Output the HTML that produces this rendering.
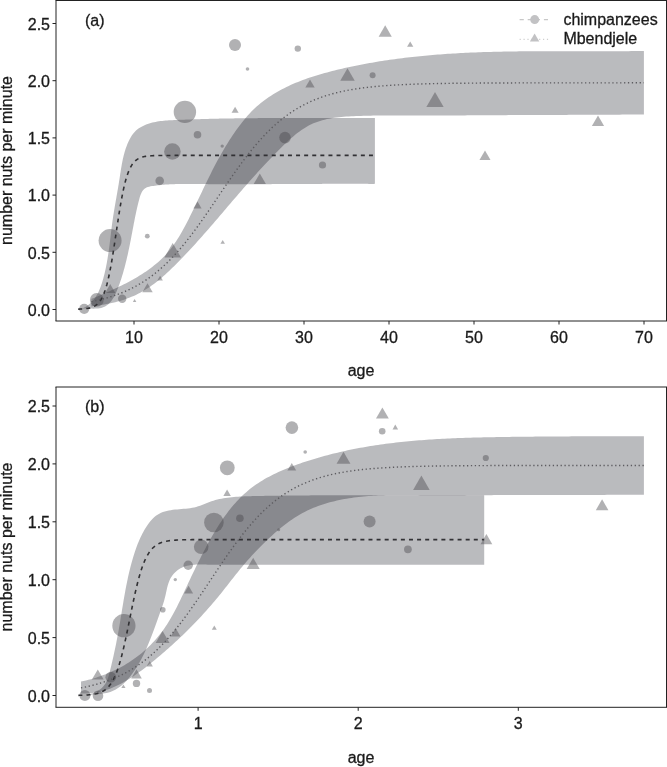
<!DOCTYPE html>
<html><head><meta charset="utf-8"><style>
html,body{margin:0;padding:0;background:#fff;}
body{width:667px;height:767px;overflow:hidden;font-family:"Liberation Sans", sans-serif;}
svg{display:block;will-change:transform;}
text{stroke:#1a1a1a;stroke-width:0.3px;}
</style></head><body>
<svg width="667" height="767" viewBox="0 0 667 767" font-family='"Liberation Sans", sans-serif' font-size="16" fill="#1a1a1a"><path d="M78.20,308.90 L80.03,309.15 L81.70,308.60 L83.28,307.96 L84.79,307.23 L86.23,306.42 L87.59,305.54 L88.89,304.57 L90.12,303.54 L91.28,302.44 L92.39,301.27 L93.43,300.04 L94.42,298.76 L95.35,297.42 L96.23,296.04 L97.06,294.61 L97.85,293.14 L98.59,291.63 L99.29,290.09 L99.95,288.52 L100.57,286.93 L101.16,285.31 L101.71,283.68 L102.24,282.03 L102.74,280.37 L103.22,278.70 L103.67,277.03 L104.10,275.36 L104.52,273.69 L104.91,272.03 L105.29,270.36 L105.65,268.69 L106.00,267.03 L106.33,265.36 L106.65,263.70 L106.95,262.04 L107.24,260.37 L107.52,258.71 L107.79,257.05 L108.05,255.39 L108.30,253.73 L108.54,252.07 L108.78,250.41 L109.00,248.75 L109.22,247.09 L109.44,245.43 L109.65,243.77 L109.86,242.11 L110.06,240.45 L110.26,238.79 L110.46,237.14 L110.66,235.48 L110.86,233.82 L111.06,232.16 L111.26,230.50 L111.47,228.85 L111.68,227.19 L111.89,225.53 L112.11,223.87 L112.33,222.21 L112.56,220.55 L112.80,218.90 L113.05,217.24 L113.30,215.58 L113.56,213.92 L113.83,212.26 L114.10,210.60 L114.38,208.94 L114.66,207.28 L114.95,205.61 L115.23,203.95 L115.52,202.29 L115.82,200.62 L116.11,198.96 L116.41,197.29 L116.70,195.62 L116.99,193.96 L117.28,192.29 L117.57,190.62 L117.86,188.95 L118.14,187.27 L118.42,185.60 L118.70,183.92 L118.97,182.25 L119.23,180.57 L119.49,178.89 L119.74,177.21 L120.00,175.53 L120.25,173.85 L120.51,172.17 L120.77,170.49 L121.04,168.82 L121.32,167.14 L121.61,165.47 L121.91,163.81 L122.23,162.14 L122.56,160.49 L122.91,158.84 L123.29,157.19 L123.69,155.55 L124.11,153.92 L124.56,152.29 L125.04,150.68 L125.55,149.07 L126.10,147.47 L126.68,145.88 L127.30,144.30 L127.96,142.73 L128.66,141.18 L129.41,139.66 L130.21,138.17 L131.06,136.72 L131.97,135.32 L132.94,133.98 L133.98,132.70 L135.09,131.49 L136.27,130.37 L137.52,129.32 L138.83,128.36 L140.20,127.47 L141.61,126.65 L143.07,125.90 L144.57,125.21 L146.09,124.58 L147.63,124.01 L149.19,123.49 L150.77,123.03 L152.36,122.61 L153.97,122.23 L155.60,121.90 L157.23,121.60 L158.88,121.34 L160.54,121.11 L162.21,120.91 L163.88,120.74 L165.57,120.59 L167.26,120.46 L168.95,120.35 L170.65,120.25 L172.35,120.16 L174.05,120.08 L175.76,120.00 L177.46,119.93 L179.16,119.86 L180.86,119.79 L182.57,119.72 L184.27,119.65 L185.97,119.59 L187.66,119.53 L189.36,119.47 L191.06,119.41 L192.76,119.35 L194.45,119.29 L196.15,119.24 L197.85,119.18 L199.54,119.13 L201.24,119.08 L202.93,119.03 L204.62,118.99 L206.32,118.94 L208.01,118.90 L209.70,118.85 L211.39,118.81 L213.08,118.77 L214.77,118.73 L216.46,118.69 L218.15,118.66 L219.84,118.62 L221.53,118.59 L223.22,118.56 L224.91,118.53 L226.60,118.50 L228.28,118.47 L229.97,118.44 L231.66,118.41 L233.34,118.39 L235.03,118.36 L236.72,118.34 L238.40,118.31 L240.09,118.29 L241.77,118.27 L243.46,118.25 L245.14,118.23 L246.83,118.22 L248.51,118.20 L250.19,118.18 L251.88,118.17 L253.56,118.16 L255.25,118.14 L256.93,118.13 L258.61,118.12 L260.29,118.11 L261.98,118.10 L263.66,118.09 L265.34,118.08 L267.03,118.07 L268.71,118.06 L270.39,118.06 L272.07,118.05 L273.75,118.04 L275.44,118.04 L277.12,118.03 L278.80,118.03 L280.48,118.03 L282.16,118.02 L283.85,118.02 L285.53,118.02 L287.21,118.02 L288.89,118.02 L290.58,118.01 L292.26,118.01 L293.94,118.01 L295.62,118.01 L297.31,118.01 L298.99,118.01 L300.67,118.01 L302.35,118.02 L304.04,118.02 L305.72,118.02 L307.40,118.02 L309.09,118.02 L310.77,118.02 L312.45,118.03 L314.14,118.03 L315.82,118.03 L317.51,118.03 L319.19,118.03 L320.88,118.04 L322.56,118.04 L324.25,118.04 L325.94,118.04 L327.62,118.04 L329.31,118.05 L330.99,118.05 L332.68,118.05 L334.37,118.05 L336.06,118.05 L337.75,118.05 L339.43,118.05 L341.12,118.05 L342.81,118.05 L344.50,118.05 L346.19,118.05 L347.88,118.05 L349.57,118.05 L351.27,118.05 L352.96,118.05 L354.65,118.05 L356.34,118.04 L358.04,118.04 L359.73,118.04 L361.43,118.03 L363.12,118.03 L364.82,118.02 L366.51,118.02 L368.21,118.01 L369.91,118.00 L371.60,117.99 L373.30,117.99 L374.90,118.00 L374.90,183.80 L373.42,183.90 L371.94,183.90 L370.45,183.89 L368.96,183.88 L367.47,183.87 L365.99,183.86 L364.50,183.86 L363.01,183.85 L361.53,183.85 L360.04,183.84 L358.55,183.84 L357.06,183.83 L355.58,183.83 L354.09,183.83 L352.60,183.83 L351.12,183.82 L349.63,183.82 L348.14,183.82 L346.66,183.82 L345.17,183.82 L343.68,183.82 L342.20,183.82 L340.71,183.83 L339.22,183.83 L337.74,183.83 L336.25,183.83 L334.76,183.84 L333.28,183.84 L331.79,183.84 L330.31,183.85 L328.82,183.85 L327.33,183.86 L325.85,183.86 L324.36,183.87 L322.87,183.87 L321.39,183.88 L319.90,183.88 L318.42,183.89 L316.93,183.89 L315.44,183.90 L313.96,183.91 L312.47,183.91 L310.99,183.92 L309.50,183.93 L308.02,183.94 L306.53,183.94 L305.04,183.95 L303.56,183.96 L302.07,183.97 L300.59,183.97 L299.10,183.98 L297.61,183.99 L296.13,184.00 L294.64,184.01 L293.16,184.01 L291.67,184.02 L290.19,184.03 L288.70,184.04 L287.21,184.05 L285.73,184.05 L284.24,184.06 L282.76,184.07 L281.27,184.08 L279.79,184.09 L278.30,184.09 L276.81,184.10 L275.33,184.11 L273.84,184.12 L272.36,184.12 L270.87,184.13 L269.39,184.14 L267.90,184.14 L266.41,184.15 L264.93,184.16 L263.44,184.16 L261.96,184.17 L260.47,184.17 L258.98,184.18 L257.50,184.18 L256.01,184.19 L254.53,184.19 L253.04,184.20 L251.55,184.20 L250.07,184.20 L248.58,184.21 L247.10,184.21 L245.61,184.21 L244.12,184.22 L242.64,184.22 L241.15,184.22 L239.66,184.22 L238.18,184.22 L236.69,184.22 L235.20,184.22 L233.72,184.22 L232.23,184.22 L230.74,184.22 L229.26,184.22 L227.77,184.21 L226.28,184.21 L224.80,184.21 L223.31,184.20 L221.82,184.20 L220.34,184.19 L218.85,184.19 L217.36,184.18 L215.87,184.17 L214.39,184.17 L212.90,184.16 L211.41,184.15 L209.93,184.14 L208.44,184.13 L206.95,184.12 L205.46,184.11 L203.97,184.09 L202.49,184.08 L201.00,184.07 L199.51,184.05 L198.02,184.04 L196.53,184.02 L195.05,184.01 L193.56,184.00 L192.07,183.98 L190.58,183.98 L189.09,183.97 L187.61,183.96 L186.12,183.96 L184.63,183.97 L183.15,183.97 L181.66,183.99 L180.17,184.01 L178.69,184.03 L177.20,184.06 L175.72,184.10 L174.23,184.15 L172.75,184.20 L171.26,184.26 L169.78,184.34 L168.30,184.42 L166.81,184.51 L165.33,184.61 L163.85,184.73 L162.37,184.85 L160.89,184.99 L159.41,185.14 L157.94,185.31 L156.46,185.48 L154.98,185.68 L153.51,185.88 L152.03,186.11 L150.57,186.36 L149.14,186.66 L147.76,187.05 L146.47,187.55 L145.28,188.19 L144.21,189.00 L143.28,189.98 L142.45,191.10 L141.72,192.34 L141.08,193.68 L140.51,195.11 L140.00,196.59 L139.54,198.12 L139.12,199.67 L138.72,201.21 L138.33,202.75 L137.95,204.27 L137.59,205.78 L137.23,207.28 L136.89,208.77 L136.56,210.25 L136.24,211.73 L135.92,213.19 L135.62,214.65 L135.32,216.11 L135.02,217.56 L134.73,219.01 L134.45,220.45 L134.17,221.89 L133.89,223.33 L133.62,224.77 L133.35,226.21 L133.08,227.65 L132.80,229.09 L132.53,230.53 L132.26,231.97 L131.99,233.41 L131.71,234.86 L131.44,236.30 L131.16,237.75 L130.88,239.19 L130.60,240.64 L130.31,242.09 L130.03,243.54 L129.74,244.99 L129.44,246.43 L129.14,247.88 L128.84,249.33 L128.53,250.78 L128.22,252.23 L127.91,253.68 L127.58,255.13 L127.25,256.57 L126.92,258.02 L126.58,259.47 L126.23,260.92 L125.88,262.36 L125.52,263.81 L125.15,265.25 L124.77,266.70 L124.38,268.14 L123.99,269.58 L123.58,271.02 L123.17,272.46 L122.75,273.90 L122.32,275.33 L121.87,276.77 L121.42,278.20 L120.96,279.63 L120.48,281.06 L120.00,282.49 L119.50,283.92 L118.99,285.34 L118.46,286.77 L117.93,288.19 L117.38,289.60 L116.81,291.00 L116.21,292.39 L115.60,293.75 L114.95,295.08 L114.27,296.38 L113.56,297.65 L112.81,298.87 L112.02,300.04 L111.18,301.16 L110.30,302.22 L109.36,303.22 L108.38,304.14 L107.33,304.99 L106.22,305.77 L105.05,306.45 L103.82,307.05 L102.51,307.55 L101.13,307.95 L99.67,308.25 L98.15,308.45 L96.57,308.57 L94.95,308.62 L93.30,308.63 L91.64,308.60 L89.98,308.55 L88.33,308.50 L86.71,308.46 L85.13,308.45 L83.61,308.49 L82.15,308.58 L80.78,308.75 L79.50,309.01 L78.20,309.30 Z" fill="rgb(0,2,13)" fill-opacity="0.2725"/>
<path d="M91.40,298.80 L93.86,297.97 L96.14,296.99 L98.43,296.01 L100.74,295.01 L103.05,294.00 L105.36,292.98 L107.69,291.95 L110.01,290.91 L112.34,289.85 L114.66,288.78 L116.98,287.69 L119.30,286.58 L121.61,285.45 L123.91,284.30 L126.20,283.13 L128.48,281.93 L130.75,280.72 L133.00,279.47 L135.23,278.20 L137.44,276.90 L139.63,275.58 L141.79,274.22 L143.93,272.83 L146.05,271.41 L148.13,269.95 L150.19,268.46 L152.21,266.94 L154.19,265.37 L156.14,263.77 L158.05,262.13 L159.93,260.44 L161.75,258.72 L163.54,256.95 L165.28,255.14 L166.97,253.28 L168.61,251.37 L170.21,249.42 L171.75,247.43 L173.25,245.40 L174.72,243.32 L176.14,241.22 L177.52,239.08 L178.87,236.92 L180.19,234.73 L181.48,232.51 L182.74,230.28 L183.98,228.03 L185.19,225.76 L186.39,223.49 L187.57,221.20 L188.73,218.91 L189.88,216.62 L191.02,214.32 L192.15,212.03 L193.27,209.73 L194.38,207.43 L195.49,205.14 L196.59,202.84 L197.69,200.55 L198.78,198.25 L199.88,195.96 L200.97,193.67 L202.06,191.38 L203.16,189.09 L204.25,186.80 L205.36,184.52 L206.46,182.24 L207.57,179.96 L208.69,177.68 L209.82,175.41 L210.95,173.14 L212.10,170.87 L213.26,168.61 L214.43,166.35 L215.61,164.10 L216.81,161.85 L218.02,159.61 L219.25,157.38 L220.49,155.15 L221.75,152.94 L223.03,150.73 L224.32,148.53 L225.63,146.34 L226.96,144.16 L228.31,141.99 L229.68,139.84 L231.07,137.70 L232.48,135.57 L233.91,133.46 L235.36,131.36 L236.83,129.28 L238.33,127.21 L239.86,125.17 L241.41,123.14 L242.99,121.14 L244.60,119.17 L246.24,117.22 L247.92,115.31 L249.64,113.44 L251.40,111.61 L253.20,109.82 L255.04,108.07 L256.92,106.37 L258.84,104.71 L260.80,103.10 L262.79,101.53 L264.81,100.00 L266.87,98.52 L268.95,97.08 L271.06,95.68 L273.19,94.32 L275.35,93.01 L277.53,91.73 L279.73,90.50 L281.95,89.30 L284.20,88.14 L286.46,87.01 L288.74,85.92 L291.04,84.87 L293.36,83.84 L295.70,82.85 L298.04,81.89 L300.41,80.96 L302.79,80.06 L305.18,79.18 L307.58,78.34 L310.00,77.51 L312.42,76.72 L314.86,75.94 L317.30,75.19 L319.76,74.46 L322.22,73.75 L324.68,73.06 L327.16,72.39 L329.63,71.73 L332.12,71.10 L334.60,70.47 L337.09,69.86 L339.58,69.27 L342.07,68.69 L344.57,68.12 L347.06,67.56 L349.56,67.01 L352.05,66.48 L354.55,65.96 L357.05,65.45 L359.56,64.95 L362.06,64.46 L364.56,63.99 L367.07,63.53 L369.58,63.07 L372.08,62.63 L374.59,62.20 L377.10,61.78 L379.61,61.37 L382.13,60.98 L384.64,60.59 L387.16,60.21 L389.67,59.84 L392.19,59.49 L394.71,59.14 L397.23,58.80 L399.75,58.47 L402.27,58.15 L404.79,57.84 L407.32,57.54 L409.84,57.25 L412.37,56.97 L414.89,56.69 L417.42,56.43 L419.95,56.17 L422.48,55.92 L425.01,55.68 L427.54,55.45 L430.07,55.23 L432.61,55.01 L435.14,54.80 L437.67,54.60 L440.21,54.41 L442.74,54.22 L445.28,54.04 L447.82,53.87 L450.36,53.71 L452.89,53.55 L455.43,53.40 L457.97,53.25 L460.51,53.11 L463.06,52.98 L465.60,52.85 L468.14,52.73 L470.68,52.62 L473.23,52.51 L475.77,52.40 L478.31,52.30 L480.86,52.21 L483.40,52.12 L485.95,52.04 L488.49,51.96 L491.04,51.89 L493.59,51.82 L496.13,51.75 L498.68,51.69 L501.23,51.64 L503.78,51.58 L506.33,51.54 L508.87,51.49 L511.42,51.45 L513.97,51.41 L516.52,51.38 L519.07,51.35 L521.62,51.32 L524.17,51.29 L526.72,51.27 L529.27,51.25 L531.82,51.24 L534.37,51.22 L536.92,51.21 L539.47,51.20 L542.02,51.19 L544.57,51.18 L547.12,51.18 L549.67,51.18 L552.22,51.17 L554.77,51.17 L557.32,51.18 L559.87,51.18 L562.42,51.18 L564.97,51.18 L567.52,51.19 L570.07,51.19 L572.62,51.20 L575.17,51.20 L577.71,51.21 L580.26,51.21 L582.81,51.22 L585.36,51.22 L587.91,51.23 L590.45,51.23 L593.00,51.24 L595.55,51.24 L598.09,51.24 L600.64,51.24 L603.18,51.24 L605.73,51.24 L608.27,51.23 L610.81,51.23 L613.36,51.22 L615.90,51.21 L618.44,51.20 L620.98,51.19 L623.53,51.17 L626.07,51.15 L628.61,51.13 L631.15,51.11 L633.68,51.08 L636.22,51.05 L638.76,51.02 L641.30,50.98 L643.90,51.10 L643.90,114.50 L641.51,114.48 L639.08,114.50 L636.66,114.52 L634.24,114.54 L631.81,114.55 L629.39,114.57 L626.97,114.59 L624.55,114.60 L622.13,114.62 L619.71,114.64 L617.29,114.65 L614.87,114.66 L612.45,114.68 L610.03,114.69 L607.61,114.70 L605.19,114.72 L602.77,114.73 L600.36,114.74 L597.94,114.75 L595.52,114.76 L593.10,114.77 L590.69,114.78 L588.27,114.79 L585.85,114.80 L583.44,114.81 L581.02,114.82 L578.61,114.83 L576.19,114.84 L573.77,114.85 L571.36,114.86 L568.94,114.87 L566.53,114.88 L564.11,114.88 L561.70,114.89 L559.28,114.90 L556.87,114.91 L554.45,114.92 L552.03,114.93 L549.62,114.94 L547.20,114.95 L544.79,114.95 L542.37,114.96 L539.95,114.97 L537.54,114.98 L535.12,114.99 L532.71,115.00 L530.29,115.01 L527.87,115.02 L525.45,115.03 L523.04,115.04 L520.62,115.05 L518.20,115.06 L515.78,115.08 L513.36,115.09 L510.94,115.10 L508.52,115.11 L506.10,115.13 L503.68,115.14 L501.26,115.15 L498.84,115.17 L496.41,115.18 L493.99,115.20 L491.57,115.21 L489.15,115.23 L486.72,115.25 L484.30,115.26 L481.88,115.28 L479.45,115.29 L477.03,115.31 L474.61,115.33 L472.18,115.34 L469.76,115.36 L467.34,115.37 L464.92,115.38 L462.49,115.40 L460.07,115.41 L457.65,115.42 L455.23,115.43 L452.81,115.44 L450.39,115.45 L447.98,115.46 L445.56,115.46 L443.15,115.47 L440.73,115.47 L438.32,115.47 L435.91,115.48 L433.49,115.47 L431.08,115.47 L428.68,115.47 L426.27,115.46 L423.86,115.45 L421.46,115.45 L419.05,115.44 L416.65,115.43 L414.24,115.42 L411.84,115.42 L409.43,115.41 L407.03,115.40 L404.62,115.40 L402.22,115.39 L399.81,115.39 L397.40,115.40 L394.99,115.40 L392.58,115.41 L390.16,115.42 L387.75,115.43 L385.33,115.45 L382.91,115.47 L380.49,115.50 L378.06,115.53 L375.63,115.56 L373.20,115.60 L370.76,115.65 L368.32,115.70 L365.88,115.76 L363.43,115.83 L360.98,115.90 L358.53,115.98 L356.07,116.07 L353.61,116.17 L351.14,116.28 L348.68,116.42 L346.23,116.57 L343.77,116.76 L341.33,116.97 L338.90,117.22 L336.48,117.51 L334.08,117.84 L331.69,118.21 L329.32,118.64 L326.97,119.12 L324.65,119.66 L322.35,120.26 L320.08,120.92 L317.84,121.66 L315.63,122.47 L313.46,123.35 L311.32,124.32 L309.22,125.37 L307.16,126.49 L305.13,127.69 L303.13,128.96 L301.16,130.29 L299.22,131.68 L297.31,133.12 L295.42,134.61 L293.56,136.15 L291.72,137.73 L289.90,139.34 L288.10,140.98 L286.32,142.65 L284.55,144.34 L282.80,146.05 L281.06,147.76 L279.33,149.49 L277.61,151.22 L275.90,152.96 L274.20,154.70 L272.50,156.44 L270.82,158.19 L269.15,159.95 L267.48,161.71 L265.82,163.48 L264.17,165.25 L262.52,167.02 L260.88,168.80 L259.25,170.58 L257.62,172.37 L256.00,174.16 L254.39,175.95 L252.78,177.75 L251.17,179.55 L249.57,181.35 L247.98,183.16 L246.39,184.97 L244.80,186.78 L243.21,188.59 L241.63,190.41 L240.05,192.23 L238.48,194.05 L236.90,195.88 L235.33,197.71 L233.76,199.53 L232.19,201.36 L230.62,203.20 L229.05,205.03 L227.49,206.87 L225.92,208.70 L224.35,210.54 L222.78,212.38 L221.21,214.22 L219.64,216.05 L218.07,217.89 L216.50,219.73 L214.92,221.56 L213.34,223.40 L211.76,225.23 L210.18,227.06 L208.59,228.89 L207.00,230.71 L205.41,232.54 L203.81,234.36 L202.21,236.17 L200.60,237.98 L198.99,239.79 L197.37,241.59 L195.75,243.39 L194.13,245.18 L192.49,246.97 L190.85,248.75 L189.21,250.52 L187.56,252.29 L185.90,254.05 L184.23,255.80 L182.56,257.55 L180.88,259.28 L179.19,261.01 L177.49,262.73 L175.78,264.45 L174.06,266.15 L172.34,267.84 L170.60,269.52 L168.85,271.18 L167.09,272.83 L165.31,274.45 L163.51,276.06 L161.70,277.64 L159.87,279.19 L158.01,280.71 L156.14,282.20 L154.24,283.66 L152.32,285.08 L150.37,286.47 L148.40,287.81 L146.40,289.11 L144.36,290.37 L142.30,291.58 L140.20,292.74 L138.08,293.85 L135.91,294.91 L133.72,295.91 L131.49,296.86 L129.24,297.76 L126.96,298.61 L124.66,299.42 L122.34,300.18 L119.99,300.89 L117.64,301.56 L115.27,302.18 L112.88,302.77 L110.49,303.31 L108.09,303.82 L105.69,304.28 L103.28,304.71 L100.88,305.11 L98.48,305.47 L96.08,305.80 L93.69,306.09 L91.40,306.50 Z" fill="rgb(0,2,13)" fill-opacity="0.2725"/>
<circle cx="84.2" cy="308.8" r="5.1" fill="rgb(70,70,74)" fill-opacity="0.42"/>
<circle cx="96.8" cy="299.9" r="6.9" fill="rgb(70,70,74)" fill-opacity="0.42"/>
<circle cx="110.1" cy="240.6" r="11.5" fill="rgb(70,70,74)" fill-opacity="0.42"/>
<circle cx="122.2" cy="298.8" r="4.2" fill="rgb(70,70,74)" fill-opacity="0.42"/>
<circle cx="147.3" cy="236.2" r="2.4" fill="rgb(70,70,74)" fill-opacity="0.42"/>
<circle cx="159.7" cy="180.8" r="4.3" fill="rgb(70,70,74)" fill-opacity="0.42"/>
<circle cx="172.4" cy="151.5" r="8.3" fill="rgb(70,70,74)" fill-opacity="0.42"/>
<circle cx="184.9" cy="111.9" r="11.2" fill="rgb(70,70,74)" fill-opacity="0.42"/>
<circle cx="197.5" cy="134.8" r="3.8" fill="rgb(70,70,74)" fill-opacity="0.42"/>
<circle cx="222.2" cy="146.1" r="1.7" fill="rgb(70,70,74)" fill-opacity="0.42"/>
<circle cx="235" cy="45" r="6.0" fill="rgb(70,70,74)" fill-opacity="0.42"/>
<circle cx="247.5" cy="69" r="1.8" fill="rgb(70,70,74)" fill-opacity="0.42"/>
<circle cx="285" cy="137.6" r="5.8" fill="rgb(70,70,74)" fill-opacity="0.42"/>
<circle cx="297.8" cy="48.6" r="3.2" fill="rgb(70,70,74)" fill-opacity="0.42"/>
<circle cx="322.5" cy="165" r="3.6" fill="rgb(70,70,74)" fill-opacity="0.42"/>
<circle cx="372.6" cy="75.3" r="3.0" fill="rgb(70,70,74)" fill-opacity="0.42"/>
<path d="M385.20,25.30 L391.78,36.70 L378.62,36.70 Z" fill="rgb(70,70,74)" fill-opacity="0.42"/>
<path d="M410.20,41.40 L413.32,46.80 L407.08,46.80 Z" fill="rgb(70,70,74)" fill-opacity="0.42"/>
<path d="M310.00,79.50 L314.68,87.60 L305.32,87.60 Z" fill="rgb(70,70,74)" fill-opacity="0.42"/>
<path d="M347.50,68.20 L354.77,80.80 L340.23,80.80 Z" fill="rgb(70,70,74)" fill-opacity="0.42"/>
<path d="M435.00,92.00 L443.66,107.00 L426.34,107.00 Z" fill="rgb(70,70,74)" fill-opacity="0.42"/>
<path d="M598.00,115.40 L604.12,126.00 L591.88,126.00 Z" fill="rgb(70,70,74)" fill-opacity="0.42"/>
<path d="M485.00,150.40 L490.54,160.00 L479.46,160.00 Z" fill="rgb(70,70,74)" fill-opacity="0.42"/>
<path d="M235.10,106.70 L238.62,112.80 L231.58,112.80 Z" fill="rgb(70,70,74)" fill-opacity="0.42"/>
<path d="M259.80,173.50 L265.92,184.10 L253.68,184.10 Z" fill="rgb(70,70,74)" fill-opacity="0.42"/>
<path d="M197.50,201.50 L201.60,208.60 L193.40,208.60 Z" fill="rgb(70,70,74)" fill-opacity="0.42"/>
<path d="M222.70,239.90 L224.95,243.80 L220.45,243.80 Z" fill="rgb(70,70,74)" fill-opacity="0.42"/>
<path d="M172.70,243.10 L180.96,257.40 L164.44,257.40 Z" fill="rgb(70,70,74)" fill-opacity="0.42"/>
<path d="M147.50,283.20 L152.70,292.20 L142.30,292.20 Z" fill="rgb(70,70,74)" fill-opacity="0.42"/>
<path d="M160.10,275.70 L162.87,280.50 L157.33,280.50 Z" fill="rgb(70,70,74)" fill-opacity="0.42"/>
<path d="M134.60,299.10 L136.33,302.10 L132.87,302.10 Z" fill="rgb(70,70,74)" fill-opacity="0.42"/>
<path d="M110.20,284.00 L115.34,292.90 L105.06,292.90 Z" fill="rgb(70,70,74)" fill-opacity="0.42"/>
<path d="M78.20,309.13 L79.19,309.10 L80.18,309.06 L81.17,309.01 L82.16,308.96 L83.15,308.89 L84.13,308.81 L85.12,308.71 L86.11,308.60 L87.10,308.46 L88.09,308.30 L89.08,308.10 L90.07,307.87 L91.06,307.59 L92.05,307.26 L93.03,306.87 L94.02,306.40 L95.01,305.85 L96.00,305.19 L96.99,304.42 L97.98,303.50 L98.97,302.43 L99.96,301.16 L100.95,299.68 L101.94,297.95 L102.92,295.94 L103.91,293.62 L104.90,290.95 L105.89,287.90 L106.88,284.45 L107.87,280.56 L108.86,276.23 L109.85,271.46 L110.84,266.25 L111.83,260.63 L112.81,254.66 L113.80,248.38 L114.79,241.89 L115.78,235.27 L116.77,228.62 L117.76,222.03 L118.75,215.60 L119.74,209.42 L120.73,203.55 L121.72,198.06 L122.71,192.97 L123.69,188.31 L124.68,184.10 L125.67,180.31 L126.66,176.94 L127.65,173.97 L128.64,171.35 L129.63,169.07 L130.62,167.09 L131.61,165.37 L132.59,163.90 L133.58,162.63 L134.57,161.54 L135.56,160.61 L136.55,159.82 L137.54,159.14 L138.53,158.57 L139.52,158.08 L140.51,157.67 L141.50,157.32 L142.48,157.03 L143.47,156.78 L144.46,156.56 L145.45,156.38 L146.44,156.23 L147.43,156.11 L148.42,156.00 L149.41,155.91 L150.40,155.83 L151.39,155.76 L152.38,155.71 L153.36,155.66 L154.35,155.62 L155.34,155.59 L156.33,155.56 L157.32,155.54 L158.31,155.52 L159.30,155.50 L160.29,155.49 L161.28,155.48 L162.26,155.47 L163.25,155.46 L164.24,155.45 L165.23,155.45 L166.22,155.44 L167.21,155.44 L168.20,155.43 L169.19,155.43 L170.18,155.43 L171.17,155.43 L172.15,155.42 L173.14,155.42 L174.13,155.42 L175.12,155.42 L176.11,155.42 L177.10,155.42 L178.09,155.42 L179.08,155.42 L180.07,155.42 L181.06,155.42 L182.04,155.42 L183.03,155.42 L184.02,155.42 L185.01,155.42 L186.00,155.42 L186.99,155.42 L187.98,155.42 L188.97,155.41 L189.96,155.41 L190.95,155.41 L191.93,155.41 L192.92,155.41 L193.91,155.41 L194.90,155.41 L195.89,155.41 L196.88,155.41 L197.87,155.41 L198.86,155.41 L199.85,155.41 L200.84,155.41 L201.82,155.41 L202.81,155.41 L203.80,155.41 L204.79,155.41 L205.78,155.41 L206.77,155.41 L207.76,155.41 L208.75,155.41 L209.74,155.41 L210.73,155.41 L211.71,155.41 L212.70,155.41 L213.69,155.41 L214.68,155.41 L215.67,155.41 L216.66,155.41 L217.65,155.41 L218.64,155.41 L219.63,155.41 L220.62,155.41 L221.60,155.41 L222.59,155.41 L223.58,155.41 L224.57,155.41 L225.56,155.41 L226.55,155.41 L227.54,155.41 L228.53,155.41 L229.52,155.41 L230.51,155.41 L231.50,155.41 L232.48,155.41 L233.47,155.41 L234.46,155.41 L235.45,155.41 L236.44,155.41 L237.43,155.41 L238.42,155.41 L239.41,155.41 L240.40,155.41 L241.38,155.41 L242.37,155.41 L243.36,155.41 L244.35,155.41 L245.34,155.41 L246.33,155.41 L247.32,155.41 L248.31,155.41 L249.30,155.41 L250.29,155.41 L251.27,155.41 L252.26,155.41 L253.25,155.41 L254.24,155.41 L255.23,155.41 L256.22,155.41 L257.21,155.41 L258.20,155.41 L259.19,155.41 L260.18,155.41 L261.16,155.41 L262.15,155.41 L263.14,155.41 L264.13,155.41 L265.12,155.41 L266.11,155.41 L267.10,155.41 L268.09,155.41 L269.08,155.41 L270.07,155.41 L271.05,155.41 L272.04,155.41 L273.03,155.41 L274.02,155.41 L275.01,155.41 L276.00,155.41 L276.99,155.41 L277.98,155.41 L278.97,155.41 L279.96,155.41 L280.94,155.41 L281.93,155.41 L282.92,155.41 L283.91,155.41 L284.90,155.41 L285.89,155.41 L286.88,155.41 L287.87,155.41 L288.86,155.41 L289.85,155.41 L290.83,155.41 L291.82,155.41 L292.81,155.41 L293.80,155.41 L294.79,155.41 L295.78,155.41 L296.77,155.41 L297.76,155.41 L298.75,155.41 L299.74,155.41 L300.72,155.41 L301.71,155.41 L302.70,155.41 L303.69,155.41 L304.68,155.41 L305.67,155.41 L306.66,155.41 L307.65,155.41 L308.64,155.41 L309.63,155.41 L310.61,155.41 L311.60,155.41 L312.59,155.41 L313.58,155.41 L314.57,155.41 L315.56,155.41 L316.55,155.41 L317.54,155.41 L318.53,155.41 L319.52,155.41 L320.50,155.41 L321.49,155.41 L322.48,155.41 L323.47,155.41 L324.46,155.41 L325.45,155.41 L326.44,155.41 L327.43,155.41 L328.42,155.41 L329.41,155.41 L330.39,155.41 L331.38,155.41 L332.37,155.41 L333.36,155.41 L334.35,155.41 L335.34,155.41 L336.33,155.41 L337.32,155.41 L338.31,155.41 L339.30,155.41 L340.28,155.41 L341.27,155.41 L342.26,155.41 L343.25,155.41 L344.24,155.41 L345.23,155.41 L346.22,155.41 L347.21,155.41 L348.20,155.41 L349.19,155.41 L350.17,155.41 L351.16,155.41 L352.15,155.41 L353.14,155.41 L354.13,155.41 L355.12,155.41 L356.11,155.41 L357.10,155.41 L358.09,155.41 L359.08,155.41 L360.06,155.41 L361.05,155.41 L362.04,155.41 L363.03,155.41 L364.02,155.41 L365.01,155.41 L366.00,155.41 L366.99,155.41 L367.98,155.41 L368.97,155.41 L369.95,155.41 L370.94,155.41 L371.93,155.41 L372.92,155.41 L373.91,155.41 L374.90,155.41" fill="none" stroke="#313134" stroke-width="1.6" stroke-dasharray="4,4.1"/>
<path d="M91.40,301.59 L93.24,301.22 L95.08,300.83 L96.93,300.43 L98.77,300.00 L100.61,299.56 L102.45,299.10 L104.29,298.61 L106.13,298.11 L107.98,297.58 L109.82,297.03 L111.66,296.45 L113.50,295.85 L115.34,295.22 L117.18,294.57 L119.03,293.89 L120.87,293.18 L122.71,292.43 L124.55,291.66 L126.39,290.85 L128.23,290.02 L130.07,289.14 L131.92,288.23 L133.76,287.29 L135.60,286.31 L137.44,285.28 L139.28,284.22 L141.12,283.12 L142.97,281.98 L144.81,280.79 L146.65,279.56 L148.49,278.29 L150.33,276.97 L152.18,275.60 L154.02,274.19 L155.86,272.73 L157.70,271.22 L159.54,269.66 L161.38,268.05 L163.22,266.39 L165.07,264.68 L166.91,262.92 L168.75,261.11 L170.59,259.25 L172.43,257.34 L174.28,255.37 L176.12,253.36 L177.96,251.30 L179.80,249.19 L181.64,247.03 L183.48,244.82 L185.33,242.57 L187.17,240.27 L189.01,237.93 L190.85,235.54 L192.69,233.12 L194.53,230.66 L196.38,228.16 L198.22,225.63 L200.06,223.06 L201.90,220.47 L203.74,217.85 L205.58,215.21 L207.43,212.54 L209.27,209.86 L211.11,207.16 L212.95,204.44 L214.79,201.72 L216.63,198.99 L218.47,196.26 L220.32,193.53 L222.16,190.80 L224.00,188.08 L225.84,185.37 L227.68,182.67 L229.53,179.99 L231.37,177.32 L233.21,174.68 L235.05,172.06 L236.89,169.47 L238.73,166.91 L240.58,164.37 L242.42,161.88 L244.26,159.42 L246.10,156.99 L247.94,154.61 L249.78,152.27 L251.62,149.97 L253.47,147.72 L255.31,145.51 L257.15,143.35 L258.99,141.24 L260.83,139.18 L262.67,137.17 L264.52,135.20 L266.36,133.29 L268.20,131.43 L270.04,129.62 L271.88,127.85 L273.73,126.14 L275.57,124.48 L277.41,122.87 L279.25,121.31 L281.09,119.80 L282.93,118.33 L284.77,116.91 L286.62,115.54 L288.46,114.22 L290.30,112.94 L292.14,111.71 L293.98,110.52 L295.83,109.37 L297.67,108.26 L299.51,107.20 L301.35,106.17 L303.19,105.18 L305.03,104.23 L306.88,103.32 L308.72,102.44 L310.56,101.59 L312.40,100.78 L314.24,100.00 L316.08,99.25 L317.93,98.54 L319.77,97.85 L321.61,97.19 L323.45,96.55 L325.29,95.94 L327.13,95.36 L328.98,94.81 L330.82,94.27 L332.66,93.76 L334.50,93.27 L336.34,92.80 L338.18,92.35 L340.03,91.92 L341.87,91.51 L343.71,91.12 L345.55,90.74 L347.39,90.38 L349.23,90.04 L351.07,89.71 L352.92,89.40 L354.76,89.10 L356.60,88.81 L358.44,88.54 L360.28,88.27 L362.13,88.02 L363.97,87.78 L365.81,87.56 L367.65,87.34 L369.49,87.13 L371.33,86.93 L373.18,86.74 L375.02,86.56 L376.86,86.39 L378.70,86.22 L380.54,86.07 L382.38,85.92 L384.23,85.77 L386.07,85.64 L387.91,85.50 L389.75,85.38 L391.59,85.26 L393.43,85.15 L395.28,85.04 L397.12,84.94 L398.96,84.84 L400.80,84.74 L402.64,84.65 L404.48,84.57 L406.32,84.49 L408.17,84.41 L410.01,84.34 L411.85,84.26 L413.69,84.20 L415.53,84.13 L417.38,84.07 L419.22,84.01 L421.06,83.96 L422.90,83.90 L424.74,83.85 L426.58,83.81 L428.43,83.76 L430.27,83.72 L432.11,83.67 L433.95,83.63 L435.79,83.60 L437.63,83.56 L439.48,83.52 L441.32,83.49 L443.16,83.46 L445.00,83.43 L446.84,83.40 L448.68,83.37 L450.53,83.35 L452.37,83.32 L454.21,83.30 L456.05,83.28 L457.89,83.26 L459.73,83.24 L461.57,83.22 L463.42,83.20 L465.26,83.18 L467.10,83.16 L468.94,83.15 L470.78,83.13 L472.63,83.12 L474.47,83.10 L476.31,83.09 L478.15,83.08 L479.99,83.06 L481.83,83.05 L483.68,83.04 L485.52,83.03 L487.36,83.02 L489.20,83.01 L491.04,83.00 L492.88,82.99 L494.73,82.99 L496.57,82.98 L498.41,82.97 L500.25,82.96 L502.09,82.96 L503.93,82.95 L505.78,82.94 L507.62,82.94 L509.46,82.93 L511.30,82.93 L513.14,82.92 L514.98,82.92 L516.83,82.91 L518.67,82.91 L520.51,82.90 L522.35,82.90 L524.19,82.90 L526.03,82.89 L527.88,82.89 L529.72,82.89 L531.56,82.88 L533.40,82.88 L535.24,82.88 L537.08,82.87 L538.92,82.87 L540.77,82.87 L542.61,82.87 L544.45,82.86 L546.29,82.86 L548.13,82.86 L549.98,82.86 L551.82,82.86 L553.66,82.86 L555.50,82.85 L557.34,82.85 L559.18,82.85 L561.02,82.85 L562.87,82.85 L564.71,82.85 L566.55,82.84 L568.39,82.84 L570.23,82.84 L572.08,82.84 L573.92,82.84 L575.76,82.84 L577.60,82.84 L579.44,82.84 L581.28,82.84 L583.12,82.84 L584.97,82.84 L586.81,82.83 L588.65,82.83 L590.49,82.83 L592.33,82.83 L594.18,82.83 L596.02,82.83 L597.86,82.83 L599.70,82.83 L601.54,82.83 L603.38,82.83 L605.23,82.83 L607.07,82.83 L608.91,82.83 L610.75,82.83 L612.59,82.83 L614.43,82.83 L616.27,82.83 L618.12,82.83 L619.96,82.83 L621.80,82.83 L623.64,82.83 L625.48,82.82 L627.32,82.82 L629.17,82.82 L631.01,82.82 L632.85,82.82 L634.69,82.82 L636.53,82.82 L638.37,82.82 L640.22,82.82 L642.06,82.82 L643.90,82.82" fill="none" stroke="#5c5c60" stroke-width="1.4" stroke-dasharray="1.3,2.6"/>
<path d="M78.40,695.40 L80.50,695.35 L82.74,695.29 L84.94,695.10 L87.10,694.79 L89.21,694.36 L91.26,693.80 L93.24,693.13 L95.14,692.33 L96.96,691.41 L98.67,690.37 L100.28,689.21 L101.78,687.93 L103.15,686.53 L104.38,685.02 L105.47,683.38 L106.42,681.63 L107.25,679.79 L107.98,677.87 L108.62,675.89 L109.20,673.86 L109.74,671.81 L110.25,669.75 L110.76,667.69 L111.25,665.64 L111.74,663.59 L112.22,661.54 L112.69,659.49 L113.16,657.44 L113.62,655.40 L114.06,653.36 L114.51,651.32 L114.94,649.28 L115.37,647.24 L115.78,645.20 L116.20,643.16 L116.60,641.12 L117.00,639.08 L117.38,637.03 L117.77,634.99 L118.14,632.95 L118.51,630.90 L118.87,628.85 L119.22,626.80 L119.57,624.75 L119.92,622.70 L120.26,620.64 L120.60,618.59 L120.94,616.53 L121.28,614.48 L121.62,612.42 L121.95,610.37 L122.29,608.31 L122.63,606.26 L122.97,604.20 L123.31,602.15 L123.66,600.09 L124.02,598.04 L124.37,595.99 L124.74,593.94 L125.11,591.89 L125.48,589.84 L125.87,587.80 L126.26,585.76 L126.67,583.71 L127.08,581.67 L127.51,579.64 L127.94,577.60 L128.39,575.57 L128.85,573.54 L129.33,571.52 L129.82,569.49 L130.32,567.48 L130.84,565.46 L131.38,563.45 L131.93,561.44 L132.50,559.44 L133.09,557.44 L133.70,555.44 L134.33,553.45 L134.98,551.47 L135.66,549.49 L136.36,547.52 L137.09,545.56 L137.85,543.61 L138.64,541.67 L139.47,539.74 L140.33,537.83 L141.23,535.93 L142.18,534.05 L143.16,532.18 L144.19,530.34 L145.27,528.51 L146.39,526.71 L147.57,524.95 L148.80,523.23 L150.10,521.57 L151.45,520.00 L152.87,518.50 L154.35,517.12 L155.91,515.85 L157.54,514.70 L159.25,513.70 L161.03,512.84 L162.88,512.10 L164.79,511.48 L166.75,510.95 L168.76,510.52 L170.82,510.16 L172.90,509.86 L175.02,509.61 L177.15,509.39 L179.30,509.20 L181.45,509.02 L183.61,508.83 L185.76,508.63 L187.89,508.40 L190.01,508.13 L192.10,507.80 L194.16,507.41 L196.18,506.93 L198.15,506.37 L200.09,505.72 L201.99,505.02 L203.88,504.27 L205.75,503.50 L207.63,502.74 L209.52,501.99 L211.43,501.28 L213.38,500.63 L215.35,500.05 L217.36,499.52 L219.39,499.06 L221.44,498.64 L223.50,498.27 L225.58,497.95 L227.66,497.66 L229.74,497.41 L231.82,497.18 L233.90,496.99 L235.99,496.81 L238.07,496.67 L240.16,496.54 L242.24,496.43 L244.33,496.34 L246.41,496.27 L248.50,496.20 L250.58,496.15 L252.67,496.10 L254.76,496.06 L256.84,496.02 L258.93,495.98 L261.01,495.94 L263.10,495.91 L265.18,495.87 L267.27,495.84 L269.36,495.81 L271.44,495.77 L273.53,495.74 L275.61,495.72 L277.70,495.69 L279.79,495.66 L281.87,495.63 L283.96,495.61 L286.04,495.59 L288.13,495.56 L290.21,495.54 L292.30,495.52 L294.39,495.50 L296.47,495.48 L298.56,495.46 L300.64,495.45 L302.73,495.43 L304.81,495.41 L306.90,495.40 L308.99,495.39 L311.07,495.37 L313.16,495.36 L315.24,495.35 L317.33,495.34 L319.42,495.33 L321.50,495.32 L323.59,495.31 L325.67,495.30 L327.76,495.29 L329.84,495.29 L331.93,495.28 L334.02,495.27 L336.10,495.27 L338.19,495.26 L340.27,495.26 L342.36,495.26 L344.44,495.25 L346.53,495.25 L348.62,495.25 L350.70,495.25 L352.79,495.24 L354.87,495.24 L356.96,495.24 L359.05,495.24 L361.13,495.24 L363.22,495.24 L365.30,495.24 L367.39,495.24 L369.47,495.24 L371.56,495.25 L373.65,495.25 L375.73,495.25 L377.82,495.25 L379.90,495.25 L381.99,495.25 L384.08,495.26 L386.16,495.26 L388.25,495.26 L390.33,495.26 L392.42,495.27 L394.51,495.27 L396.59,495.27 L398.68,495.27 L400.76,495.28 L402.85,495.28 L404.93,495.28 L407.02,495.28 L409.11,495.28 L411.19,495.29 L413.28,495.29 L415.36,495.29 L417.45,495.29 L419.54,495.29 L421.62,495.29 L423.71,495.29 L425.79,495.29 L427.88,495.29 L429.97,495.29 L432.05,495.29 L434.14,495.29 L436.22,495.29 L438.31,495.29 L440.40,495.29 L442.48,495.28 L444.57,495.28 L446.65,495.28 L448.74,495.27 L450.83,495.27 L452.91,495.26 L455.00,495.26 L457.08,495.25 L459.17,495.24 L461.26,495.24 L463.34,495.23 L465.43,495.22 L467.51,495.21 L469.60,495.20 L471.69,495.19 L473.77,495.18 L475.86,495.17 L477.94,495.15 L480.03,495.14 L482.12,495.13 L484.20,495.20 L484.20,564.70 L482.29,564.68 L480.43,564.68 L478.57,564.69 L476.71,564.69 L474.84,564.69 L472.98,564.70 L471.12,564.70 L469.26,564.70 L467.39,564.71 L465.53,564.71 L463.66,564.71 L461.80,564.71 L459.94,564.72 L458.07,564.72 L456.21,564.72 L454.34,564.72 L452.48,564.73 L450.61,564.73 L448.75,564.73 L446.88,564.73 L445.02,564.73 L443.15,564.74 L441.28,564.74 L439.42,564.74 L437.55,564.74 L435.69,564.74 L433.82,564.74 L431.95,564.74 L430.09,564.75 L428.22,564.75 L426.35,564.75 L424.48,564.75 L422.62,564.75 L420.75,564.75 L418.88,564.75 L417.01,564.75 L415.15,564.75 L413.28,564.75 L411.41,564.75 L409.54,564.75 L407.68,564.75 L405.81,564.75 L403.94,564.75 L402.07,564.75 L400.20,564.76 L398.33,564.76 L396.47,564.76 L394.60,564.76 L392.73,564.76 L390.86,564.76 L388.99,564.76 L387.12,564.76 L385.25,564.76 L383.39,564.76 L381.52,564.76 L379.65,564.76 L377.78,564.76 L375.91,564.76 L374.04,564.76 L372.17,564.76 L370.31,564.76 L368.44,564.76 L366.57,564.76 L364.70,564.76 L362.83,564.76 L360.96,564.76 L359.09,564.76 L357.23,564.76 L355.36,564.76 L353.49,564.76 L351.62,564.76 L349.75,564.76 L347.88,564.76 L346.02,564.76 L344.15,564.76 L342.28,564.76 L340.41,564.76 L338.54,564.76 L336.68,564.76 L334.81,564.76 L332.94,564.76 L331.07,564.76 L329.21,564.76 L327.34,564.76 L325.47,564.76 L323.61,564.76 L321.74,564.76 L319.87,564.77 L318.00,564.77 L316.14,564.77 L314.27,564.77 L312.41,564.77 L310.54,564.77 L308.67,564.77 L306.81,564.77 L304.94,564.78 L303.08,564.78 L301.21,564.78 L299.35,564.78 L297.48,564.78 L295.62,564.78 L293.75,564.79 L291.89,564.79 L290.02,564.79 L288.16,564.79 L286.29,564.80 L284.43,564.80 L282.57,564.80 L280.70,564.80 L278.84,564.81 L276.98,564.81 L275.12,564.81 L273.25,564.82 L271.39,564.82 L269.53,564.82 L267.67,564.83 L265.81,564.83 L263.94,564.83 L262.08,564.84 L260.22,564.84 L258.36,564.85 L256.50,564.85 L254.64,564.86 L252.78,564.86 L250.92,564.86 L249.06,564.87 L247.19,564.87 L245.33,564.87 L243.47,564.87 L241.60,564.87 L239.74,564.87 L237.87,564.87 L236.00,564.87 L234.13,564.86 L232.26,564.86 L230.39,564.85 L228.51,564.84 L226.63,564.83 L224.76,564.82 L222.88,564.81 L220.99,564.80 L219.11,564.78 L217.22,564.76 L215.33,564.74 L213.44,564.72 L211.54,564.69 L209.64,564.67 L207.74,564.64 L205.83,564.60 L203.93,564.57 L202.02,564.55 L200.12,564.54 L198.22,564.56 L196.34,564.62 L194.47,564.72 L192.62,564.88 L190.80,565.11 L189.00,565.41 L187.23,565.79 L185.50,566.27 L183.80,566.85 L182.14,567.55 L180.53,568.35 L178.98,569.27 L177.49,570.30 L176.07,571.43 L174.74,572.66 L173.50,573.98 L172.35,575.40 L171.32,576.90 L170.40,578.49 L169.60,580.15 L168.90,581.88 L168.28,583.66 L167.74,585.49 L167.26,587.35 L166.81,589.23 L166.40,591.13 L165.99,593.02 L165.57,594.90 L165.14,596.77 L164.67,598.60 L164.18,600.40 L163.65,602.18 L163.10,603.94 L162.53,605.68 L161.94,607.41 L161.34,609.13 L160.73,610.85 L160.11,612.57 L159.49,614.29 L158.87,616.02 L158.24,617.76 L157.62,619.50 L156.99,621.25 L156.37,623.00 L155.73,624.76 L155.10,626.52 L154.46,628.28 L153.81,630.05 L153.16,631.81 L152.50,633.57 L151.83,635.34 L151.15,637.10 L150.46,638.85 L149.76,640.61 L149.06,642.36 L148.33,644.10 L147.60,645.84 L146.85,647.57 L146.09,649.29 L145.31,651.00 L144.52,652.70 L143.71,654.40 L142.88,656.08 L142.03,657.75 L141.16,659.40 L140.28,661.05 L139.37,662.67 L138.44,664.28 L137.49,665.88 L136.52,667.46 L135.52,669.02 L134.50,670.56 L133.45,672.08 L132.38,673.58 L131.28,675.06 L130.15,676.51 L128.99,677.94 L127.80,679.34 L126.57,680.70 L125.31,682.02 L124.01,683.29 L122.67,684.51 L121.29,685.67 L119.87,686.78 L118.39,687.82 L116.88,688.79 L115.31,689.68 L113.68,690.50 L112.01,691.23 L110.28,691.88 L108.49,692.43 L106.65,692.90 L104.77,693.29 L102.86,693.62 L100.92,693.90 L98.97,694.12 L97.00,694.30 L95.04,694.45 L93.08,694.58 L91.13,694.69 L89.20,694.79 L87.31,694.90 L85.45,695.02 L83.63,695.16 L81.87,695.32 L80.17,695.53 L78.40,695.70 Z" fill="rgb(0,2,13)" fill-opacity="0.2725"/>
<path d="M81.00,681.60 L83.50,681.09 L85.99,680.47 L88.48,679.82 L90.96,679.13 L93.43,678.40 L95.90,677.64 L98.36,676.83 L100.81,675.98 L103.24,675.09 L105.66,674.16 L108.07,673.19 L110.46,672.17 L112.83,671.11 L115.18,670.01 L117.51,668.87 L119.82,667.68 L122.10,666.45 L124.35,665.17 L126.57,663.84 L128.77,662.48 L130.93,661.07 L133.07,659.61 L135.17,658.12 L137.25,656.58 L139.29,655.00 L141.29,653.39 L143.27,651.73 L145.20,650.03 L147.10,648.30 L148.97,646.52 L150.80,644.71 L152.58,642.86 L154.33,640.98 L156.04,639.06 L157.71,637.11 L159.34,635.12 L160.92,633.09 L162.46,631.04 L163.96,628.95 L165.41,626.83 L166.83,624.68 L168.20,622.50 L169.55,620.30 L170.86,618.08 L172.14,615.83 L173.39,613.57 L174.61,611.29 L175.82,608.99 L177.00,606.68 L178.16,604.36 L179.30,602.04 L180.43,599.70 L181.55,597.36 L182.66,595.02 L183.76,592.67 L184.86,590.33 L185.95,587.98 L187.04,585.65 L188.13,583.32 L189.23,580.99 L190.32,578.67 L191.42,576.35 L192.53,574.04 L193.64,571.73 L194.76,569.42 L195.88,567.11 L197.01,564.81 L198.15,562.50 L199.29,560.20 L200.45,557.90 L201.62,555.59 L202.80,553.29 L204.00,550.98 L205.20,548.68 L206.42,546.37 L207.66,544.07 L208.91,541.78 L210.18,539.49 L211.47,537.21 L212.77,534.94 L214.10,532.69 L215.44,530.44 L216.81,528.21 L218.19,526.00 L219.60,523.81 L221.04,521.63 L222.50,519.47 L223.98,517.34 L225.49,515.23 L227.03,513.15 L228.59,511.09 L230.19,509.07 L231.81,507.07 L233.46,505.11 L235.15,503.18 L236.87,501.28 L238.62,499.42 L240.40,497.60 L242.22,495.82 L244.07,494.08 L245.96,492.38 L247.89,490.73 L249.86,489.12 L251.86,487.56 L253.91,486.04 L255.98,484.58 L258.10,483.15 L260.24,481.77 L262.42,480.42 L264.62,479.12 L266.85,477.86 L269.11,476.63 L271.40,475.44 L273.70,474.28 L276.03,473.16 L278.38,472.06 L280.75,471.00 L283.14,469.97 L285.54,468.97 L287.95,467.99 L290.38,467.04 L292.82,466.11 L295.26,465.21 L297.72,464.32 L300.18,463.46 L302.64,462.62 L305.11,461.79 L307.59,460.98 L310.07,460.19 L312.55,459.42 L315.03,458.67 L317.52,457.93 L320.01,457.21 L322.50,456.51 L325.00,455.82 L327.50,455.15 L330.00,454.50 L332.51,453.86 L335.02,453.24 L337.53,452.64 L340.05,452.05 L342.56,451.47 L345.08,450.91 L347.61,450.37 L350.13,449.84 L352.66,449.32 L355.19,448.82 L357.72,448.34 L360.25,447.87 L362.79,447.41 L365.33,446.96 L367.87,446.53 L370.41,446.11 L372.96,445.71 L375.50,445.32 L378.05,444.94 L380.60,444.57 L383.15,444.21 L385.71,443.87 L388.26,443.54 L390.82,443.21 L393.38,442.90 L395.94,442.60 L398.50,442.32 L401.07,442.04 L403.63,441.77 L406.20,441.51 L408.77,441.26 L411.33,441.02 L413.91,440.80 L416.48,440.58 L419.05,440.36 L421.62,440.16 L424.20,439.97 L426.78,439.78 L429.35,439.61 L431.93,439.44 L434.51,439.27 L437.09,439.12 L439.67,438.97 L442.25,438.83 L444.84,438.70 L447.42,438.57 L450.00,438.45 L452.59,438.33 L455.17,438.23 L457.76,438.12 L460.35,438.02 L462.93,437.93 L465.52,437.84 L468.11,437.76 L470.69,437.68 L473.28,437.61 L475.87,437.54 L478.46,437.47 L481.05,437.41 L483.63,437.35 L486.22,437.30 L488.81,437.24 L491.40,437.19 L493.99,437.15 L496.57,437.10 L499.16,437.06 L501.75,437.02 L504.34,436.98 L506.92,436.94 L509.51,436.91 L512.10,436.87 L514.68,436.84 L517.27,436.81 L519.85,436.77 L522.44,436.74 L525.02,436.72 L527.60,436.69 L530.19,436.66 L532.77,436.64 L535.36,436.61 L537.94,436.59 L540.52,436.57 L543.11,436.54 L545.69,436.52 L548.27,436.50 L550.85,436.48 L553.44,436.47 L556.02,436.45 L558.60,436.43 L561.18,436.42 L563.77,436.40 L566.35,436.39 L568.93,436.38 L571.51,436.36 L574.10,436.35 L576.68,436.34 L579.26,436.33 L581.85,436.32 L584.43,436.31 L587.01,436.30 L589.60,436.30 L592.18,436.29 L594.76,436.28 L597.35,436.28 L599.93,436.27 L602.52,436.27 L605.10,436.26 L607.69,436.26 L610.27,436.25 L612.86,436.25 L615.45,436.24 L618.03,436.24 L620.62,436.24 L623.21,436.24 L625.80,436.23 L628.39,436.23 L630.98,436.23 L633.57,436.23 L636.16,436.23 L638.75,436.22 L641.34,436.22 L643.90,436.20 L643.90,494.70 L641.43,494.63 L638.98,494.66 L636.52,494.68 L634.06,494.71 L631.61,494.73 L629.15,494.75 L626.69,494.77 L624.24,494.79 L621.78,494.80 L619.32,494.82 L616.87,494.83 L614.41,494.84 L611.95,494.85 L609.49,494.86 L607.03,494.87 L604.58,494.88 L602.12,494.89 L599.66,494.89 L597.20,494.90 L594.74,494.90 L592.28,494.91 L589.82,494.91 L587.37,494.91 L584.91,494.91 L582.45,494.91 L579.99,494.91 L577.53,494.92 L575.07,494.92 L572.61,494.92 L570.15,494.92 L567.69,494.92 L565.23,494.91 L562.77,494.91 L560.31,494.91 L557.85,494.91 L555.39,494.91 L552.93,494.91 L550.48,494.91 L548.02,494.91 L545.56,494.91 L543.10,494.92 L540.64,494.92 L538.18,494.92 L535.72,494.92 L533.26,494.93 L530.80,494.93 L528.34,494.94 L525.89,494.94 L523.43,494.95 L520.97,494.96 L518.51,494.96 L516.05,494.97 L513.59,494.98 L511.14,495.00 L508.68,495.01 L506.22,495.02 L503.76,495.04 L501.31,495.06 L498.85,495.07 L496.39,495.09 L493.94,495.12 L491.48,495.14 L489.02,495.16 L486.57,495.18 L484.11,495.21 L481.66,495.23 L479.20,495.25 L476.74,495.28 L474.29,495.30 L471.83,495.32 L469.37,495.35 L466.92,495.37 L464.46,495.39 L462.01,495.41 L459.55,495.42 L457.09,495.44 L454.63,495.45 L452.18,495.47 L449.72,495.48 L447.26,495.49 L444.80,495.49 L442.34,495.50 L439.88,495.50 L437.43,495.49 L434.97,495.49 L432.51,495.48 L430.04,495.47 L427.58,495.45 L425.12,495.43 L422.66,495.41 L420.20,495.38 L417.74,495.36 L415.27,495.33 L412.81,495.30 L410.35,495.27 L407.88,495.25 L405.42,495.23 L402.96,495.22 L400.50,495.21 L398.03,495.20 L395.57,495.21 L393.11,495.23 L390.65,495.25 L388.19,495.29 L385.74,495.34 L383.28,495.40 L380.83,495.48 L378.37,495.57 L375.92,495.68 L373.47,495.80 L371.02,495.95 L368.57,496.12 L366.12,496.30 L363.68,496.51 L361.24,496.74 L358.80,497.00 L356.36,497.28 L353.92,497.59 L351.49,497.92 L349.06,498.29 L346.63,498.68 L344.21,499.11 L341.79,499.56 L339.37,500.05 L336.97,500.57 L334.57,501.13 L332.18,501.72 L329.80,502.35 L327.43,503.01 L325.08,503.72 L322.74,504.46 L320.42,505.24 L318.11,506.06 L315.82,506.93 L313.55,507.84 L311.30,508.79 L309.07,509.79 L306.86,510.83 L304.68,511.92 L302.52,513.06 L300.39,514.25 L298.29,515.48 L296.20,516.75 L294.14,518.06 L292.11,519.42 L290.09,520.81 L288.10,522.24 L286.13,523.70 L284.17,525.20 L282.24,526.72 L280.33,528.27 L278.43,529.85 L276.56,531.45 L274.70,533.07 L272.86,534.72 L271.03,536.38 L269.22,538.06 L267.42,539.75 L265.64,541.46 L263.87,543.18 L262.12,544.92 L260.38,546.67 L258.66,548.43 L256.95,550.21 L255.26,551.99 L253.58,553.79 L251.91,555.60 L250.26,557.42 L248.62,559.25 L246.99,561.10 L245.38,562.95 L243.78,564.82 L242.20,566.70 L240.63,568.59 L239.07,570.49 L237.53,572.40 L235.99,574.32 L234.47,576.25 L232.94,578.18 L231.43,580.12 L229.91,582.06 L228.40,583.99 L226.88,585.93 L225.36,587.86 L223.84,589.79 L222.31,591.72 L220.77,593.63 L219.22,595.54 L217.66,597.43 L216.10,599.32 L214.52,601.20 L212.93,603.07 L211.33,604.92 L209.72,606.77 L208.11,608.62 L206.48,610.45 L204.84,612.27 L203.20,614.08 L201.54,615.89 L199.87,617.68 L198.20,619.47 L196.51,621.25 L194.82,623.01 L193.11,624.77 L191.40,626.52 L189.67,628.26 L187.94,630.00 L186.20,631.72 L184.44,633.43 L182.68,635.14 L180.91,636.83 L179.13,638.52 L177.34,640.20 L175.54,641.87 L173.73,643.53 L171.91,645.18 L170.08,646.83 L168.25,648.46 L166.40,650.09 L164.54,651.70 L162.68,653.31 L160.80,654.91 L158.92,656.50 L157.03,658.08 L155.13,659.65 L153.21,661.22 L151.29,662.77 L149.36,664.32 L147.43,665.86 L145.48,667.39 L143.52,668.90 L141.55,670.39 L139.56,671.86 L137.57,673.31 L135.55,674.74 L133.53,676.13 L131.48,677.49 L129.42,678.82 L127.35,680.11 L125.25,681.35 L123.14,682.56 L121.00,683.71 L118.84,684.82 L116.66,685.87 L114.46,686.87 L112.24,687.81 L109.99,688.69 L107.71,689.51 L105.41,690.25 L103.08,690.93 L100.73,691.53 L98.34,692.06 L95.93,692.51 L93.48,692.87 L91.00,693.16 L88.49,693.35 L85.95,693.45 L83.38,693.46 L81.00,693.60 Z" fill="rgb(0,2,13)" fill-opacity="0.2725"/>
<circle cx="84.9" cy="695.4" r="5.5" fill="rgb(70,70,74)" fill-opacity="0.42"/>
<circle cx="98" cy="695.8" r="5.3" fill="rgb(70,70,74)" fill-opacity="0.42"/>
<circle cx="110.8" cy="677.2" r="5.4" fill="rgb(70,70,74)" fill-opacity="0.42"/>
<circle cx="123.9" cy="625.7" r="11.6" fill="rgb(70,70,74)" fill-opacity="0.42"/>
<circle cx="136.5" cy="683.4" r="3.7" fill="rgb(70,70,74)" fill-opacity="0.42"/>
<circle cx="149.5" cy="690.5" r="2.5" fill="rgb(70,70,74)" fill-opacity="0.42"/>
<circle cx="162.8" cy="609.8" r="2.8" fill="rgb(70,70,74)" fill-opacity="0.42"/>
<circle cx="175.3" cy="579.6" r="1.7" fill="rgb(70,70,74)" fill-opacity="0.42"/>
<circle cx="188.2" cy="565.2" r="4.7" fill="rgb(70,70,74)" fill-opacity="0.42"/>
<circle cx="201.2" cy="546.8" r="7.3" fill="rgb(70,70,74)" fill-opacity="0.42"/>
<circle cx="213.9" cy="522.5" r="9.8" fill="rgb(70,70,74)" fill-opacity="0.42"/>
<circle cx="227.3" cy="467.8" r="7.4" fill="rgb(70,70,74)" fill-opacity="0.42"/>
<circle cx="239.9" cy="518.3" r="3.8" fill="rgb(70,70,74)" fill-opacity="0.42"/>
<circle cx="278.7" cy="529.7" r="1.5" fill="rgb(70,70,74)" fill-opacity="0.42"/>
<circle cx="291.9" cy="427.6" r="6.3" fill="rgb(70,70,74)" fill-opacity="0.42"/>
<circle cx="305.2" cy="452" r="1.8" fill="rgb(70,70,74)" fill-opacity="0.42"/>
<circle cx="369.6" cy="521.4" r="6" fill="rgb(70,70,74)" fill-opacity="0.42"/>
<circle cx="382.2" cy="431.2" r="3.3" fill="rgb(70,70,74)" fill-opacity="0.42"/>
<circle cx="407.9" cy="549.3" r="3.9" fill="rgb(70,70,74)" fill-opacity="0.42"/>
<circle cx="485.8" cy="458" r="3.1" fill="rgb(70,70,74)" fill-opacity="0.42"/>
<path d="M97.80,669.40 L103.69,679.60 L91.91,679.60 Z" fill="rgb(70,70,74)" fill-opacity="0.42"/>
<path d="M136.50,669.20 L141.81,678.40 L131.19,678.40 Z" fill="rgb(70,70,74)" fill-opacity="0.42"/>
<path d="M123.40,684.40 L125.48,688.00 L121.32,688.00 Z" fill="rgb(70,70,74)" fill-opacity="0.42"/>
<path d="M149.70,661.10 L152.88,666.60 L146.52,666.60 Z" fill="rgb(70,70,74)" fill-opacity="0.42"/>
<path d="M162.60,631.00 L169.59,643.10 L155.61,643.10 Z" fill="rgb(70,70,74)" fill-opacity="0.42"/>
<path d="M175.60,628.00 L180.51,636.50 L170.69,636.50 Z" fill="rgb(70,70,74)" fill-opacity="0.42"/>
<path d="M188.60,585.80 L193.10,593.60 L184.10,593.60 Z" fill="rgb(70,70,74)" fill-opacity="0.42"/>
<path d="M227.10,489.60 L230.85,496.10 L223.35,496.10 Z" fill="rgb(70,70,74)" fill-opacity="0.42"/>
<path d="M253.20,557.80 L259.72,569.10 L246.68,569.10 Z" fill="rgb(70,70,74)" fill-opacity="0.42"/>
<path d="M291.80,462.90 L296.19,470.50 L287.41,470.50 Z" fill="rgb(70,70,74)" fill-opacity="0.42"/>
<path d="M343.50,451.70 L350.43,463.70 L336.57,463.70 Z" fill="rgb(70,70,74)" fill-opacity="0.42"/>
<path d="M382.40,407.50 L388.81,418.60 L375.99,418.60 Z" fill="rgb(70,70,74)" fill-opacity="0.42"/>
<path d="M395.30,424.60 L398.07,429.40 L392.53,429.40 Z" fill="rgb(70,70,74)" fill-opacity="0.42"/>
<path d="M421.40,475.60 L429.71,490.00 L413.09,490.00 Z" fill="rgb(70,70,74)" fill-opacity="0.42"/>
<path d="M486.40,534.10 L492.29,544.30 L480.51,544.30 Z" fill="rgb(70,70,74)" fill-opacity="0.42"/>
<path d="M602.10,499.30 L608.39,510.20 L595.81,510.20 Z" fill="rgb(70,70,74)" fill-opacity="0.42"/>
<path d="M214.30,625.50 L216.78,629.80 L211.82,629.80 Z" fill="rgb(70,70,74)" fill-opacity="0.42"/>
<path d="M78.40,695.34 L79.75,695.31 L81.11,695.27 L82.46,695.23 L83.81,695.17 L85.16,695.10 L86.52,695.03 L87.87,694.93 L89.22,694.82 L90.57,694.68 L91.93,694.51 L93.28,694.32 L94.63,694.08 L95.98,693.80 L97.34,693.46 L98.69,693.06 L100.04,692.58 L101.40,692.00 L102.75,691.32 L104.10,690.52 L105.45,689.56 L106.81,688.43 L108.16,687.10 L109.51,685.54 L110.86,683.71 L112.22,681.59 L113.57,679.14 L114.92,676.33 L116.27,673.11 L117.63,669.47 L118.98,665.39 L120.33,660.85 L121.69,655.85 L123.04,650.43 L124.39,644.61 L125.74,638.44 L127.10,632.00 L128.45,625.38 L129.80,618.65 L131.15,611.93 L132.51,605.32 L133.86,598.89 L135.21,592.73 L136.56,586.92 L137.92,581.49 L139.27,576.48 L140.62,571.91 L141.98,567.78 L143.33,564.07 L144.68,560.78 L146.03,557.86 L147.39,555.31 L148.74,553.08 L150.09,551.14 L151.44,549.46 L152.80,548.01 L154.15,546.77 L155.50,545.70 L156.85,544.78 L158.21,544.00 L159.56,543.34 L160.91,542.77 L162.27,542.29 L163.62,541.88 L164.97,541.53 L166.32,541.23 L167.68,540.98 L169.03,540.77 L170.38,540.59 L171.73,540.44 L173.09,540.31 L174.44,540.20 L175.79,540.11 L177.14,540.03 L178.50,539.96 L179.85,539.91 L181.20,539.86 L182.56,539.82 L183.91,539.78 L185.26,539.76 L186.61,539.73 L187.97,539.71 L189.32,539.69 L190.67,539.68 L192.02,539.67 L193.38,539.66 L194.73,539.65 L196.08,539.64 L197.43,539.63 L198.79,539.63 L200.14,539.62 L201.49,539.62 L202.85,539.62 L204.20,539.61 L205.55,539.61 L206.90,539.61 L208.26,539.61 L209.61,539.61 L210.96,539.61 L212.31,539.61 L213.67,539.60 L215.02,539.60 L216.37,539.60 L217.72,539.60 L219.08,539.60 L220.43,539.60 L221.78,539.60 L223.14,539.60 L224.49,539.60 L225.84,539.60 L227.19,539.60 L228.55,539.60 L229.90,539.60 L231.25,539.60 L232.60,539.60 L233.96,539.60 L235.31,539.60 L236.66,539.60 L238.01,539.60 L239.37,539.60 L240.72,539.60 L242.07,539.60 L243.43,539.60 L244.78,539.60 L246.13,539.60 L247.48,539.60 L248.84,539.60 L250.19,539.60 L251.54,539.60 L252.89,539.60 L254.25,539.60 L255.60,539.60 L256.95,539.60 L258.30,539.60 L259.66,539.60 L261.01,539.60 L262.36,539.60 L263.72,539.60 L265.07,539.60 L266.42,539.60 L267.77,539.60 L269.13,539.60 L270.48,539.60 L271.83,539.60 L273.18,539.60 L274.54,539.60 L275.89,539.60 L277.24,539.60 L278.59,539.60 L279.95,539.60 L281.30,539.60 L282.65,539.60 L284.01,539.60 L285.36,539.60 L286.71,539.60 L288.06,539.60 L289.42,539.60 L290.77,539.60 L292.12,539.60 L293.47,539.60 L294.83,539.60 L296.18,539.60 L297.53,539.60 L298.88,539.60 L300.24,539.60 L301.59,539.60 L302.94,539.60 L304.30,539.60 L305.65,539.60 L307.00,539.60 L308.35,539.60 L309.71,539.60 L311.06,539.60 L312.41,539.60 L313.76,539.60 L315.12,539.60 L316.47,539.60 L317.82,539.60 L319.17,539.60 L320.53,539.60 L321.88,539.60 L323.23,539.60 L324.59,539.60 L325.94,539.60 L327.29,539.60 L328.64,539.60 L330.00,539.60 L331.35,539.60 L332.70,539.60 L334.05,539.60 L335.41,539.60 L336.76,539.60 L338.11,539.60 L339.46,539.60 L340.82,539.60 L342.17,539.60 L343.52,539.60 L344.88,539.60 L346.23,539.60 L347.58,539.60 L348.93,539.60 L350.29,539.60 L351.64,539.60 L352.99,539.60 L354.34,539.60 L355.70,539.60 L357.05,539.60 L358.40,539.60 L359.75,539.60 L361.11,539.60 L362.46,539.60 L363.81,539.60 L365.17,539.60 L366.52,539.60 L367.87,539.60 L369.22,539.60 L370.58,539.60 L371.93,539.60 L373.28,539.60 L374.63,539.60 L375.99,539.60 L377.34,539.60 L378.69,539.60 L380.04,539.60 L381.40,539.60 L382.75,539.60 L384.10,539.60 L385.46,539.60 L386.81,539.60 L388.16,539.60 L389.51,539.60 L390.87,539.60 L392.22,539.60 L393.57,539.60 L394.92,539.60 L396.28,539.60 L397.63,539.60 L398.98,539.60 L400.33,539.60 L401.69,539.60 L403.04,539.60 L404.39,539.60 L405.75,539.60 L407.10,539.60 L408.45,539.60 L409.80,539.60 L411.16,539.60 L412.51,539.60 L413.86,539.60 L415.21,539.60 L416.57,539.60 L417.92,539.60 L419.27,539.60 L420.62,539.60 L421.98,539.60 L423.33,539.60 L424.68,539.60 L426.04,539.60 L427.39,539.60 L428.74,539.60 L430.09,539.60 L431.45,539.60 L432.80,539.60 L434.15,539.60 L435.50,539.60 L436.86,539.60 L438.21,539.60 L439.56,539.60 L440.91,539.60 L442.27,539.60 L443.62,539.60 L444.97,539.60 L446.33,539.60 L447.68,539.60 L449.03,539.60 L450.38,539.60 L451.74,539.60 L453.09,539.60 L454.44,539.60 L455.79,539.60 L457.15,539.60 L458.50,539.60 L459.85,539.60 L461.20,539.60 L462.56,539.60 L463.91,539.60 L465.26,539.60 L466.62,539.60 L467.97,539.60 L469.32,539.60 L470.67,539.60 L472.03,539.60 L473.38,539.60 L474.73,539.60 L476.08,539.60 L477.44,539.60 L478.79,539.60 L480.14,539.60 L481.49,539.60 L482.85,539.60 L484.20,539.60" fill="none" stroke="#313134" stroke-width="1.6" stroke-dasharray="4,4.1"/>
<path d="M81.00,687.88 L82.88,687.51 L84.75,687.13 L86.63,686.73 L88.51,686.30 L90.38,685.86 L92.26,685.40 L94.13,684.92 L96.01,684.42 L97.89,683.89 L99.76,683.34 L101.64,682.77 L103.52,682.17 L105.39,681.54 L107.27,680.89 L109.14,680.20 L111.02,679.49 L112.90,678.75 L114.77,677.97 L116.65,677.17 L118.53,676.32 L120.40,675.45 L122.28,674.54 L124.16,673.59 L126.03,672.60 L127.91,671.57 L129.78,670.50 L131.66,669.39 L133.54,668.24 L135.41,667.04 L137.29,665.80 L139.17,664.51 L141.04,663.17 L142.92,661.79 L144.80,660.36 L146.67,658.87 L148.55,657.34 L150.42,655.76 L152.30,654.12 L154.18,652.43 L156.05,650.69 L157.93,648.90 L159.81,647.05 L161.68,645.15 L163.56,643.20 L165.44,641.19 L167.31,639.13 L169.19,637.02 L171.06,634.85 L172.94,632.64 L174.82,630.37 L176.69,628.06 L178.57,625.69 L180.45,623.28 L182.32,620.83 L184.20,618.33 L186.07,615.80 L187.95,613.22 L189.83,610.60 L191.70,607.96 L193.58,605.28 L195.46,602.57 L197.33,599.83 L199.21,597.07 L201.09,594.30 L202.96,591.50 L204.84,588.69 L206.71,585.87 L208.59,583.05 L210.47,580.22 L212.34,577.39 L214.22,574.56 L216.10,571.74 L217.97,568.93 L219.85,566.14 L221.73,563.36 L223.60,560.60 L225.48,557.86 L227.35,555.15 L229.23,552.47 L231.11,549.82 L232.98,547.20 L234.86,544.62 L236.74,542.08 L238.61,539.58 L240.49,537.13 L242.36,534.72 L244.24,532.35 L246.12,530.04 L247.99,527.77 L249.87,525.55 L251.75,523.39 L253.62,521.28 L255.50,519.22 L257.38,517.21 L259.25,515.26 L261.13,513.36 L263.00,511.51 L264.88,509.72 L266.76,507.98 L268.63,506.29 L270.51,504.66 L272.39,503.08 L274.26,501.55 L276.14,500.07 L278.01,498.64 L279.89,497.27 L281.77,495.93 L283.64,494.65 L285.52,493.41 L287.40,492.22 L289.27,491.07 L291.15,489.97 L293.03,488.91 L294.90,487.89 L296.78,486.91 L298.65,485.96 L300.53,485.06 L302.41,484.19 L304.28,483.35 L306.16,482.55 L308.04,481.79 L309.91,481.05 L311.79,480.35 L313.67,479.67 L315.54,479.03 L317.42,478.41 L319.29,477.81 L321.17,477.25 L323.05,476.71 L324.92,476.19 L326.80,475.69 L328.68,475.22 L330.55,474.76 L332.43,474.33 L334.31,473.92 L336.18,473.52 L338.06,473.15 L339.93,472.78 L341.81,472.44 L343.69,472.11 L345.56,471.80 L347.44,471.50 L349.32,471.21 L351.19,470.94 L353.07,470.68 L354.94,470.43 L356.82,470.20 L358.70,469.97 L360.57,469.76 L362.45,469.55 L364.33,469.35 L366.20,469.17 L368.08,468.99 L369.96,468.82 L371.83,468.66 L373.71,468.51 L375.58,468.36 L377.46,468.22 L379.34,468.09 L381.21,467.96 L383.09,467.84 L384.97,467.72 L386.84,467.61 L388.72,467.51 L390.60,467.41 L392.47,467.31 L394.35,467.22 L396.22,467.14 L398.10,467.05 L399.98,466.98 L401.85,466.90 L403.73,466.83 L405.61,466.76 L407.48,466.70 L409.36,466.64 L411.23,466.58 L413.11,466.52 L414.99,466.47 L416.86,466.42 L418.74,466.37 L420.62,466.33 L422.49,466.28 L424.37,466.24 L426.25,466.20 L428.12,466.17 L430.00,466.13 L431.87,466.10 L433.75,466.06 L435.63,466.03 L437.50,466.00 L439.38,465.98 L441.26,465.95 L443.13,465.92 L445.01,465.90 L446.89,465.88 L448.76,465.86 L450.64,465.83 L452.51,465.81 L454.39,465.80 L456.27,465.78 L458.14,465.76 L460.02,465.74 L461.90,465.73 L463.77,465.71 L465.65,465.70 L467.52,465.69 L469.40,465.67 L471.28,465.66 L473.15,465.65 L475.03,465.64 L476.91,465.63 L478.78,465.62 L480.66,465.61 L482.54,465.60 L484.41,465.59 L486.29,465.58 L488.16,465.58 L490.04,465.57 L491.92,465.56 L493.79,465.56 L495.67,465.55 L497.55,465.54 L499.42,465.54 L501.30,465.53 L503.17,465.53 L505.05,465.52 L506.93,465.52 L508.80,465.51 L510.68,465.51 L512.56,465.50 L514.43,465.50 L516.31,465.50 L518.19,465.49 L520.06,465.49 L521.94,465.49 L523.81,465.48 L525.69,465.48 L527.57,465.48 L529.44,465.48 L531.32,465.47 L533.20,465.47 L535.07,465.47 L536.95,465.47 L538.83,465.46 L540.70,465.46 L542.58,465.46 L544.45,465.46 L546.33,465.46 L548.21,465.46 L550.08,465.45 L551.96,465.45 L553.84,465.45 L555.71,465.45 L557.59,465.45 L559.47,465.45 L561.34,465.45 L563.22,465.45 L565.09,465.44 L566.97,465.44 L568.85,465.44 L570.72,465.44 L572.60,465.44 L574.48,465.44 L576.35,465.44 L578.23,465.44 L580.10,465.44 L581.98,465.44 L583.86,465.44 L585.73,465.44 L587.61,465.43 L589.49,465.43 L591.36,465.43 L593.24,465.43 L595.12,465.43 L596.99,465.43 L598.87,465.43 L600.74,465.43 L602.62,465.43 L604.50,465.43 L606.37,465.43 L608.25,465.43 L610.13,465.43 L612.00,465.43 L613.88,465.43 L615.75,465.43 L617.63,465.43 L619.51,465.43 L621.38,465.43 L623.26,465.43 L625.14,465.43 L627.01,465.43 L628.89,465.43 L630.77,465.43 L632.64,465.43 L634.52,465.43 L636.39,465.43 L638.27,465.43 L640.15,465.43 L642.02,465.43 L643.90,465.43" fill="none" stroke="#5c5c60" stroke-width="1.4" stroke-dasharray="1.3,2.6"/>
<line x1="56" y1="0.5" x2="56" y2="321.0" stroke="#222" stroke-width="1"/>
<line x1="55.5" y1="0.5" x2="667" y2="0.5" stroke="#222" stroke-width="1"/>
<line x1="666.5" y1="0.5" x2="666.5" y2="321.0" stroke="#222" stroke-width="1"/>
<line x1="55.5" y1="321.0" x2="667" y2="321.0" stroke="#222" stroke-width="1"/>
<line x1="52.5" y1="309.50" x2="56" y2="309.50" stroke="#222" stroke-width="1"/>
<text x="50" y="315.80" text-anchor="end">0.0</text>
<line x1="52.5" y1="252.30" x2="56" y2="252.30" stroke="#222" stroke-width="1"/>
<text x="50" y="258.60" text-anchor="end">0.5</text>
<line x1="52.5" y1="195.10" x2="56" y2="195.10" stroke="#222" stroke-width="1"/>
<text x="50" y="201.40" text-anchor="end">1.0</text>
<line x1="52.5" y1="137.90" x2="56" y2="137.90" stroke="#222" stroke-width="1"/>
<text x="50" y="144.20" text-anchor="end">1.5</text>
<line x1="52.5" y1="80.70" x2="56" y2="80.70" stroke="#222" stroke-width="1"/>
<text x="50" y="87.00" text-anchor="end">2.0</text>
<line x1="52.5" y1="23.50" x2="56" y2="23.50" stroke="#222" stroke-width="1"/>
<text x="50" y="29.80" text-anchor="end">2.5</text>
<line x1="134.00" y1="321.0" x2="134.00" y2="324.5" stroke="#222" stroke-width="1"/>
<text x="134.00" y="342.7" text-anchor="middle">10</text>
<line x1="219.00" y1="321.0" x2="219.00" y2="324.5" stroke="#222" stroke-width="1"/>
<text x="219.00" y="342.7" text-anchor="middle">20</text>
<line x1="304.00" y1="321.0" x2="304.00" y2="324.5" stroke="#222" stroke-width="1"/>
<text x="304.00" y="342.7" text-anchor="middle">30</text>
<line x1="389.00" y1="321.0" x2="389.00" y2="324.5" stroke="#222" stroke-width="1"/>
<text x="389.00" y="342.7" text-anchor="middle">40</text>
<line x1="474.00" y1="321.0" x2="474.00" y2="324.5" stroke="#222" stroke-width="1"/>
<text x="474.00" y="342.7" text-anchor="middle">50</text>
<line x1="559.00" y1="321.0" x2="559.00" y2="324.5" stroke="#222" stroke-width="1"/>
<text x="559.00" y="342.7" text-anchor="middle">60</text>
<line x1="644.00" y1="321.0" x2="644.00" y2="324.5" stroke="#222" stroke-width="1"/>
<text x="644.00" y="342.7" text-anchor="middle">70</text>
<text x="361" y="376.4" text-anchor="middle">age</text>
<text transform="translate(11.7,160.5) rotate(-90)" text-anchor="middle">number nuts per minute</text>
<text x="85" y="25.7">(a)</text>
<line x1="56" y1="387.0" x2="56" y2="707.3" stroke="#222" stroke-width="1"/>
<line x1="55.5" y1="387.0" x2="667" y2="387.0" stroke="#222" stroke-width="1"/>
<line x1="666.5" y1="387.0" x2="666.5" y2="707.3" stroke="#222" stroke-width="1"/>
<line x1="55.5" y1="707.3" x2="667" y2="707.3" stroke="#222" stroke-width="1"/>
<line x1="52.5" y1="695.50" x2="56" y2="695.50" stroke="#222" stroke-width="1"/>
<text x="50" y="701.80" text-anchor="end">0.0</text>
<line x1="52.5" y1="637.60" x2="56" y2="637.60" stroke="#222" stroke-width="1"/>
<text x="50" y="643.90" text-anchor="end">0.5</text>
<line x1="52.5" y1="579.70" x2="56" y2="579.70" stroke="#222" stroke-width="1"/>
<text x="50" y="586.00" text-anchor="end">1.0</text>
<line x1="52.5" y1="521.80" x2="56" y2="521.80" stroke="#222" stroke-width="1"/>
<text x="50" y="528.10" text-anchor="end">1.5</text>
<line x1="52.5" y1="463.90" x2="56" y2="463.90" stroke="#222" stroke-width="1"/>
<text x="50" y="470.20" text-anchor="end">2.0</text>
<line x1="52.5" y1="406.00" x2="56" y2="406.00" stroke="#222" stroke-width="1"/>
<text x="50" y="412.30" text-anchor="end">2.5</text>
<line x1="198.10" y1="707.3" x2="198.10" y2="710.8" stroke="#222" stroke-width="1"/>
<text x="198.10" y="729.0" text-anchor="middle">1</text>
<line x1="358.20" y1="707.3" x2="358.20" y2="710.8" stroke="#222" stroke-width="1"/>
<text x="358.20" y="729.0" text-anchor="middle">2</text>
<line x1="518.30" y1="707.3" x2="518.30" y2="710.8" stroke="#222" stroke-width="1"/>
<text x="518.30" y="729.0" text-anchor="middle">3</text>
<text x="361" y="763.0" text-anchor="middle">age</text>
<text transform="translate(11.7,547.0) rotate(-90)" text-anchor="middle">number nuts per minute</text>
<text x="85" y="411.8">(b)</text>
<line x1="519.6" y1="19.6" x2="548" y2="19.6" stroke="#c8c8c8" stroke-width="1.4" stroke-dasharray="4.2,3.9"/>
<circle cx="534.7" cy="19.6" r="4.5" fill="#c2c2c4"/>
<line x1="519.6" y1="39.4" x2="549" y2="39.4" stroke="#cfcfcf" stroke-width="1.3" stroke-dasharray="1.2,2.7"/>
<path d="M534.6,33.4 L539.3,41.5 L529.9,41.5 Z" fill="#c2c2c4"/>
<text x="563.4" y="25.3">chimpanzees</text>
<text x="563.4" y="44.1">Mbendjele</text></svg>
</body></html>
